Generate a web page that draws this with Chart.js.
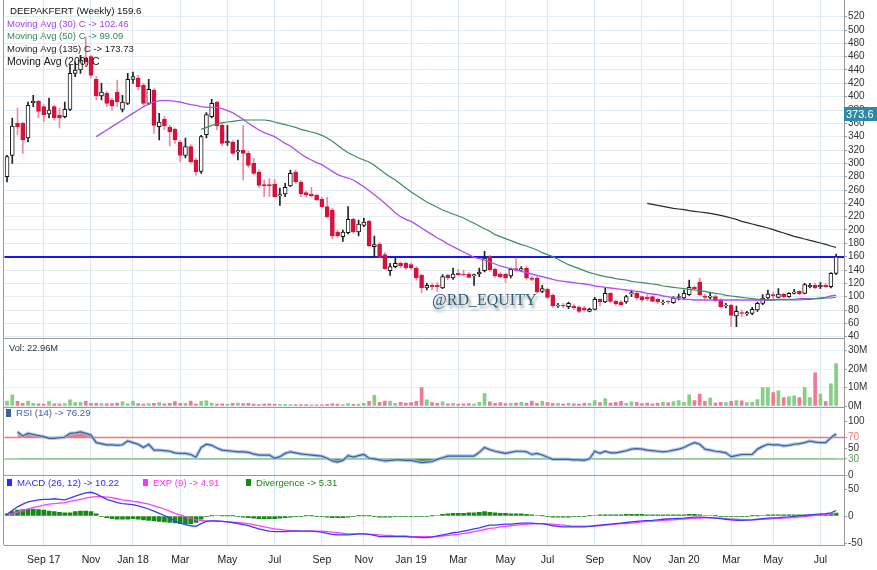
<!DOCTYPE html>
<html><head><meta charset="utf-8">
<script src="https://cdn.jsdelivr.net/npm/chart.js@4.4.0/dist/chart.umd.min.js"></script>
<style>html,body{margin:0;padding:0;background:#fff;}#wrap{position:relative;width:877px;height:570px;}canvas{display:block;background:#fff;}</style>
</head><body><div id="wrap"><canvas id="c" width="877" height="570"></canvas></div>
<script>
// ---------- DATA (weekly, from 2017-07-17) ----------
const startDate = '2017-07-17';
const slotCount = 160; // 159 weekly bars + one empty slot at the right edge
const open = [280,312,360,360,338,391,393,385,374,385,372,370,381,435,440,458,460,426,401,405,395,407,381,390,426,428,417,390,410,355,366,354,351,332,312,325,305,288,343,370,392,357,331,332,317,320,315,300,287,268,268,269,251,254,266,287,272,256,254,252,246,235,230,197,190,196,216,197,207,213,175,179,163,139,145,150,150,148,143,132,113,117,117,113,132,128,135,134,134,131,134,139,160,141,134,134,131,142,140,143,128,128,108,111,102,86,87,85,86,84,83,78,81,96,92,105,93,92,92,104,105,100,99,100,96,91,93,91,99,98,103,114,122,101,99,100,95,86,87,71,76,74,75,80,90,98,103,99,104,100,105,108,105,115,117,115,117,115,135];
const high = [312,368,383,362,392,402,395,388,398,387,383,392,447,452,462,490,462,430,420,408,398,425,402,435,437,432,420,426,412,375,370,357,353,334,338,328,308,342,376,396,393,360,357,334,335,357,318,308,290,275,277,276,263,270,290,290,274,258,264,254,249,249,232,200,200,235,218,215,218,215,191,181,166,150,158,152,152,150,145,134,120,120,121,133,134,143,141,140,136,134,143,168,162,143,136,135,143,158,145,145,130,130,117,113,104,90,90,92,88,86,85,83,99,97,113,106,95,94,102,110,107,101,103,101,98,95,94,100,104,110,125,116,128,104,107,102,97,90,89,86,80,78,84,92,103,110,107,112,105,106,111,109,120,120,120,121,120,136,164];
const low = [272,300,343,315,332,385,368,362,368,365,353,368,379,430,435,445,428,395,395,385,380,385,377,388,420,410,388,388,345,335,350,326,330,302,308,300,282,285,338,368,350,327,327,313,305,275,294,283,264,250,250,249,237,250,265,270,250,250,250,244,233,218,187,189,183,194,195,191,205,175,160,158,141,132,143,143,141,141,125,106,110,110,108,112,126,126,132,131,128,117,130,137,138,129,128,121,128,138,138,126,124,105,106,97,84,84,83,82,81,76,78,77,80,86,91,91,87,86,90,100,95,93,94,92,90,88,89,90,95,96,102,110,102,95,97,92,83,83,55,55,70,72,73,78,88,96,95,98,98,99,104,103,104,113,112,112,113,113,133];
const close = [310,356,355,335,387,393,378,373,380,368,368,381,435,440,455,452,432,401,407,390,386,392,392,426,430,415,390,411,357,362,356,347,335,312,325,302,287,340,373,390,356,330,333,315,319,315,297,285,267,266,266,250,253,264,285,272,254,253,251,245,235,220,191,191,197,216,197,209,212,176,178,159,142,145,150,146,143,143,128,113,117,115,115,130,128,134,133,133,129,133,137,158,140,131,130,128,141,140,142,128,126,107,112,99,86,87,86,90,83,78,80,81,96,92,105,93,89,88,100,106,98,95,97,93,92,92,92,98,100,105,114,112,103,99,101,94,85,87,72,78,75,76,81,90,98,104,101,104,100,105,107,104,118,117,113,117,115,135,159.6];
const volumeM = [2.7,6.0,2.5,1.5,2.7,1.5,1.2,1.1,2.4,1.2,1.2,1.3,3.4,1.8,2.0,2.5,1.5,1.4,1.3,1.2,1.3,1.6,2.2,1.2,2.6,1.3,1.0,1.3,1.5,1.8,1.2,1.4,2.4,1.5,1.5,2.6,1.0,2.5,2.8,1.6,1.0,1.2,1.1,1.5,1.6,1.3,1.5,1.0,0.8,1.0,1.2,1.0,0.9,0.9,0.8,0.8,0.8,0.8,0.7,0.6,0.7,0.9,1.2,1.0,0.8,1.3,0.9,1.0,1.5,2.5,5.8,2.0,2.6,2.6,1.5,2.0,1.6,1.8,2.5,10.0,3.3,1.8,1.5,2.2,1.2,1.5,1.1,1.2,1.3,1.1,2.0,6.7,2.2,1.5,1.8,1.3,1.5,1.6,2.0,1.5,2.6,1.5,2.5,1.8,1.3,1.4,1.0,1.5,1.2,1.0,1.5,1.4,3.0,1.8,4.0,1.6,2.0,2.5,1.5,2.3,2.0,1.3,1.6,1.2,1.5,2.0,1.7,2.4,3.0,2.0,6.0,3.0,6.4,2.5,4.3,1.6,2.0,1.8,2.5,3.0,2.8,1.8,2.0,3.5,10.0,10.0,7.3,8.2,4.5,5.0,5.5,4.5,10.0,4.5,18.0,6.5,2.4,12.0,22.96];
const ma30Start = 17;
const ma30 = [340,345,350,355,360,365,370,375,380,385,389,392,394,394,394,393,392,390,388,387,385,384,384,384,382,379,376,371,366,360,355,350,346,343,340,335,330,326,320,314,309,305,301,298,293,288,283,280,278,275,270,265,259,253,247,240,233,226,220,216,213,208,203,198,193,188,184,179,175,171,167,163,159,157,155,152,149,146,144,142,140,138,136,134,132,130,128,126,124,123,122,121,120,119,118,116,115,114,113,112,111,110,109,108,107,105,104,103,101,100,98,97,96,96,95,95,95,95,95,95,95,95,95,95,95,95,95,95,95,95,96,96,96,96,97,97,97,97,98,99,101,102.46];
const ma50Start = 37;
const ma50 = [351,354,357,359,361,362,363,364,365,365,365,365,365,364,362,360,358,356,354,351,349,347,345,342,338,333,327,321,316,312,308,305,302,297,291,285,280,275,269,263,257,252,247,242,238,234,230,227,224,221,218,214,210,206,202,198,193,190,187,184,181,178,176,173,170,166,163,160,156,152,148,145,142,139,136,134,132,130,129,127,126,125,123,122,121,120,119,118,116,115,114,113,112,111,110,109,108,106,105,104,102,101,100,99,98,97,96,96,95,95,95,95,95,95,95,96,96,97,97,98,98,99.09];
const ma135Start = 122;
const ma135 = [240,238.5,237,235.5,234,232.5,231.5,230.5,229,228,227,226,225,223.5,222,220,218,216,213,211,209,207,205,203,200.5,198,195.5,193,190.5,188.5,186.5,184.5,182.5,180.5,178.5,176,173.73];
const rsi = [null,null,80,72,77,75,73,71,68,68,69,70,77,78,80,77,74,60,58,56,56,55,56,63,60,57,51,57,46,46,45,44,41,40,40,38,33,51,57,55,50,46,45,44,43,43,42,39,37,37,37,31,34,40,43,41,39,38,37,36,35,31,26,24,27,36,33,36,38,31,30,28,26,27,28,28,27,27,25,23,24,25,29,32,35,35,35,35,35,35,42,51,47,44,42,40,42,44,44,43,38,40,37,33,29,29,29,29,28,28,27,30,44,40,44,41,41,43,45,48,49,48,46,45,44,43,44,46,48,51,56,60,57,48,46,44,43,41,34,36,38,38,38,48,53,57,56,56,54,55,57,58,60,63,61,60,60,69,76.29];
const macd = [3,10,17,22,26,28,30,31,31,32,31,30,33,37,40,43,44,41,36,31,28,25,23,22,21,19,16,13,9,5,1,-4,-9,-13,-16,-18,-19,-14,-10,-9,-9,-10,-11,-12,-14,-16,-18,-21,-24,-26,-28,-29,-29,-29,-28,-28,-28,-28,-28,-29,-30,-32,-34,-35,-35,-35,-34,-33,-33,-34,-36,-38,-38,-38,-38,-38,-38,-39,-39,-40,-40,-39,-37,-35,-33,-31,-30,-28,-26,-24,-22,-19,-17,-17,-16,-15,-15,-14,-13,-13,-13,-14,-14,-16,-18,-19,-20,-20,-20,-20,-20,-19,-18,-17,-16,-15,-14,-13,-12,-11,-10,-9,-8.5,-8,-7,-6,-5.5,-5,-4.5,-4,-3,-2,-2,-2.5,-3,-4,-5,-6,-7,-8,-8,-7.5,-7,-6,-5,-4,-3.5,-3,-2,-1.5,-0.5,0.5,1,2,3,4,4.5,6,10.22];
const signal = [2,4,7,10,13,16,18,20,22,23,24,25,27,29,31,33,35,36,36,35,34,32,30,29,27,26,24,22,19,16,13,9,5,2,-1,-4,-7,-8,-9,-9,-10,-10,-11,-12,-12,-13,-14,-16,-18,-20,-22,-24,-25,-26,-27,-27,-28,-28,-28,-28,-28,-29,-30,-31,-32,-33,-33,-33,-33,-34,-34,-35,-36,-36,-37,-37,-37,-38,-38,-38,-38,-38,-38,-37,-36,-35,-34,-32,-31,-29,-27,-25,-23,-22,-20,-19,-18,-17,-16,-15,-14.5,-14,-14,-14.5,-15,-16,-17,-18,-19,-19,-19,-19,-18,-18,-17,-16,-15,-14,-14,-13,-12,-11,-10,-9.5,-9,-8,-7.5,-7,-6,-5.5,-5,-4.5,-4,-3.5,-3.5,-4,-4,-5,-5.5,-6,-6.5,-7,-7,-6.5,-6,-5.5,-5,-4.5,-4,-3.5,-3,-2,-1,0,1,2,3,4,4.91];
const divergence = [4,8,11,12,13,13,12,11,9,8,7,6,6,8,9,9,8,4,-1,-3,-5,-6,-6,-6,-5,-6,-7,-8,-9,-10,-11,-12,-13,-14,-14,-14,-12,-6,-1,0.4,1,0.4,0.4,0.4,-1,-2,-3,-4,-5,-5,-5,-5,-4,-3,-2,-1,-1,0.4,0.4,-1,-1,-2,-3,-3,-3,-2,-1,0.4,0.4,0.4,-1,-2,-2,-2,-1,-1,-1,-1,-1,-1,-1,0.4,1,3,4,5,5,5,6,6,7,8,7,6,5,5,4,4,4,3,2,1,0.4,-1,-2,-2,-2,-2,-1,-1,-1,0.4,1,2,2,2,2,2,3,3,3,3,2,2,2,2,2,2,2,2,3,3,2,1,1,0.4,-1,-1,-1,-1,-1,-1,0.4,0.4,1,2,2,2,2,2,2,2,2,2,2,2,2,3,5.31];
const monthTickIdx = [7,16,24,33,42,51,60,68,77,86,95,103,112,121,129,138,146,155];
const monthTickLabels = ['Sep 17','Nov','Jan 18','Mar','May','Jul','Sep','Nov','Jan 19','Mar','May','Jul','Sep','Nov','Jan 20','Mar','May','Jul'];
const priceTicks = [40,60,80,100,120,140,160,180,200,220,240,260,280,300,320,340,360,380,400,420,440,460,480,500,520];
const volTicks = [0,10,20,30];
const rsiTicks = [0,30,50,70,100];
const macdTicks = [-50,0,50];
const lastClose = 159.6;
const tagPrice = 373.6;
const rsiUpper = 70, rsiLower = 30;

// ---------- BUILD ----------
const categories = Array.from({length: slotCount}, (_, i) => {
  const d = new Date(Date.parse(startDate + 'T00:00:00Z') + i * 7 * 864e5);
  return d.toISOString().slice(0, 10);
});
const pad = (start, arr) => Array(start).fill(null).concat(arr);
const up = close.map((c, i) => c >= open[i]);
const FONT = '"Liberation Sans", Arial, sans-serif';

function yAxis(weight, min, max, ticks, fmt, gridColor, tickColor) {
  return {
    type: 'linear', position: 'right', stack: 'panels', stackWeight: weight, min, max,
    afterBuildTicks: s => { s.ticks = ticks.map(v => ({value: v})); },
    afterFit: s => { s.width = 33; s.paddingTop = 0; s.paddingBottom = 0; },
    grid: {color: gridColor, tickColor: '#999', tickLength: 3, drawTicks: true},
    border: {display: true, color: '#999'},
    ticks: {autoSkip: false, padding: 1, color: tickColor || '#333', font: {family: FONT, size: 10}, callback: fmt}
  };
}

const overlay = {
  id: 'overlay',
  beforeDatasetsDraw(chart) {
    const ctx = chart.ctx, a = chart.chartArea, s = chart.scales;
    ctx.save();
    let y = Math.round(s.yP.getPixelForValue(lastClose));
    ctx.strokeStyle = '#1414ff'; ctx.lineWidth = 2;
    ctx.beginPath(); ctx.moveTo(a.left, y); ctx.lineTo(a.right, y); ctx.stroke();
    y = Math.round(s.yR.getPixelForValue(rsiUpper)) + 0.5;
    ctx.strokeStyle = '#f07878'; ctx.lineWidth = 1.3;
    ctx.beginPath(); ctx.moveTo(a.left, y); ctx.lineTo(a.right, y); ctx.stroke();
    y = Math.round(s.yR.getPixelForValue(rsiLower));
    ctx.strokeStyle = '#a9d6a9'; ctx.lineWidth = 2;
    ctx.beginPath(); ctx.moveTo(a.left, y); ctx.lineTo(a.right, y); ctx.stroke();
    ctx.restore();
  },
  afterDraw(chart) {
    const ctx = chart.ctx, a = chart.chartArea, s = chart.scales;
    ctx.save();
    ctx.strokeStyle = '#9a9a9a'; ctx.lineWidth = 1;
    [s.yP.bottom, s.yV.bottom, s.yR.bottom].forEach(b => {
      const y = Math.round(b) + 0.5;
      ctx.beginPath(); ctx.moveTo(3, y); ctx.lineTo(a.right, y); ctx.stroke();
    });
    ctx.beginPath(); ctx.moveTo(3.5, 0); ctx.lineTo(3.5, a.bottom); ctx.stroke();

    ctx.textBaseline = 'middle'; ctx.textAlign = 'left';
    const txt = (t, x, y, c, size) => { ctx.font = (size || 9.5) + 'px ' + FONT; ctx.fillStyle = c; ctx.fillText(t, x, y); };
    txt('DEEPAKFERT (Weekly) ' + close[close.length - 1], 10, 11, '#111', 9.7);
    txt('Moving Avg (30) C -> ' + ma30[ma30.length - 1], 7, 24, '#a040f0');
    txt('Moving Avg (50) C -> ' + ma50[ma50.length - 1], 7, 36.5, '#2e8a55');
    txt('Moving Avg (135) C -> ' + ma135[ma135.length - 1], 7, 49.5, '#222');
    txt('Moving Avg (200) C', 7, 62.5, '#111', 10.5);
    txt('Vol: ' + volumeM[volumeM.length - 1] + 'M', 9, 348, '#333', 9.3);
    ctx.fillStyle = '#3c5fa3'; ctx.fillRect(6, 409, 5, 8);
    txt('RSI (14) -> ' + rsi[rsi.length - 1], 16, 413.5, '#3c5fa3', 9.7);
    ctx.fillStyle = '#2b2bff'; ctx.fillRect(7, 479, 5, 7);
    txt('MACD (26, 12) -> ' + macd[macd.length - 1], 17, 483, '#2b2bff', 9.6);
    ctx.fillStyle = '#ff33ff'; ctx.fillRect(143, 479, 5, 7);
    txt('EXP (9) -> ' + signal[signal.length - 1], 153, 483, '#ff33ff', 9.6);
    ctx.fillStyle = '#138a13'; ctx.fillRect(246, 479, 5, 7);
    txt('Divergence -> ' + divergence[divergence.length - 1], 256, 483, '#138a13', 9.6);
    const ty = Math.round(s.yP.getPixelForValue(tagPrice));
    ctx.fillStyle = '#2b8aa7'; ctx.fillRect(844, ty - 7, 33, 14);
    txt(String(tagPrice), 846, ty + 0.5, '#fff', 11);
    ctx.shadowColor = 'rgba(0,0,0,0.45)'; ctx.shadowBlur = 3; ctx.shadowOffsetX = 2; ctx.shadowOffsetY = 3;
    ctx.font = '16px "Liberation Serif", "Times New Roman", serif';
    ctx.fillStyle = '#2f5f78';
    ctx.fillText('@RD_EQUITY', 432, 301);
    ctx.restore();
  }
};

const lineDs = (data, axis, color, width, order) => ({type: 'line', data, yAxisID: axis, borderColor: color, borderWidth: width, pointRadius: 0, fill: false, order, tension: 0});

new Chart(document.getElementById('c'), {
  data: {
    labels: categories,
    datasets: [
      {type: 'bar', data: high.map((h, i) => [low[i], h]), yAxisID: 'yP', backgroundColor: up.map(u => u ? '#222' : '#f3869c'), barThickness: 1, grouped: false, order: 6},
      {type: 'bar', data: open.map((o, i) => [Math.min(o, close[i]), Math.max(o, close[i])]), yAxisID: 'yP', backgroundColor: up.map(u => u ? '#ffffff' : '#d5123c'), borderColor: up.map(u => u ? '#111' : '#d5123c'), borderWidth: 1, borderSkipped: false, barThickness: 4, grouped: false, order: 5},
      lineDs(pad(ma135Start, ma135), 'yP', '#2a2a2a', 1.2, 1),
      lineDs(pad(ma50Start, ma50), 'yP', '#3d8c5e', 1.2, 1),
      lineDs(pad(ma30Start, ma30), 'yP', '#b24cf8', 1.3, 1),
      {type: 'bar', data: volumeM, yAxisID: 'yV', backgroundColor: up.map(u => u ? '#84cf84' : '#f07a92'), barThickness: 3, grouped: false, order: 4},
      {type: 'line', data: rsi, yAxisID: 'yR', borderColor: 'rgba(0,0,0,0)', borderWidth: 0, pointRadius: 0, fill: {target: {value: rsiUpper}, above: '#f47878', below: 'rgba(0,0,0,0)'}, order: 4},
      {type: 'line', data: rsi, yAxisID: 'yR', borderColor: 'rgba(0,0,0,0)', borderWidth: 0, pointRadius: 0, fill: {target: {value: rsiLower}, above: 'rgba(0,0,0,0)', below: '#3f8f4a'}, order: 4},
      lineDs(rsi, 'yR', 'rgba(165,190,228,0.85)', 3.5, 3),
      lineDs(rsi, 'yR', '#3c5fa3', 1.2, 2),
      {type: 'bar', data: divergence, yAxisID: 'yM', backgroundColor: '#138a13', barThickness: 4, grouped: false, order: 4},
      lineDs(signal, 'yM', '#ff40ff', 1.3, 2),
      lineDs(macd, 'yM', '#3b3bff', 1.3, 1)
    ]
  },
  options: {
    responsive: false, animation: false, events: [],
    layout: {padding: {left: 4.4, right: 0, top: 0, bottom: 0}, autoPadding: false},
    plugins: {legend: {display: false}, tooltip: {enabled: false}},
    scales: {
      x: {
        type: 'category', offset: true,
        grid: {offset: false, color: '#dce8f1', drawTicks: false},
        border: {display: true, color: '#999'},
        ticks: {autoSkip: false, maxRotation: 0, padding: 9, color: '#222', font: {family: FONT, size: 10.5}, callback: (v, i) => monthTickLabels[i]},
        afterBuildTicks: s => { s.ticks = monthTickIdx.map(v => ({value: v})); },
        afterFit: s => { s.height = 25; s.paddingLeft = 0; s.paddingRight = 0; }
      },
      yP: yAxis(338, 38, 545, priceTicks, v => String(v), '#e2ecf4'),
      yV: yAxis(69, -0.54, 36.8, volTicks, v => v + 'M', '#e8eff5'),
      yR: yAxis(68, 0, 126, rsiTicks, v => String(v), 'rgba(0,0,0,0)', c => {
        const v = c.tick && c.tick.value; return v === rsiUpper ? '#f07878' : v === rsiLower ? '#5aa05a' : '#333';
      }),
      yM: yAxis(70, -53.7, 76, macdTicks, v => String(v), 'rgba(0,0,0,0)')
    }
  },
  plugins: [overlay]
});
</script></body></html>
